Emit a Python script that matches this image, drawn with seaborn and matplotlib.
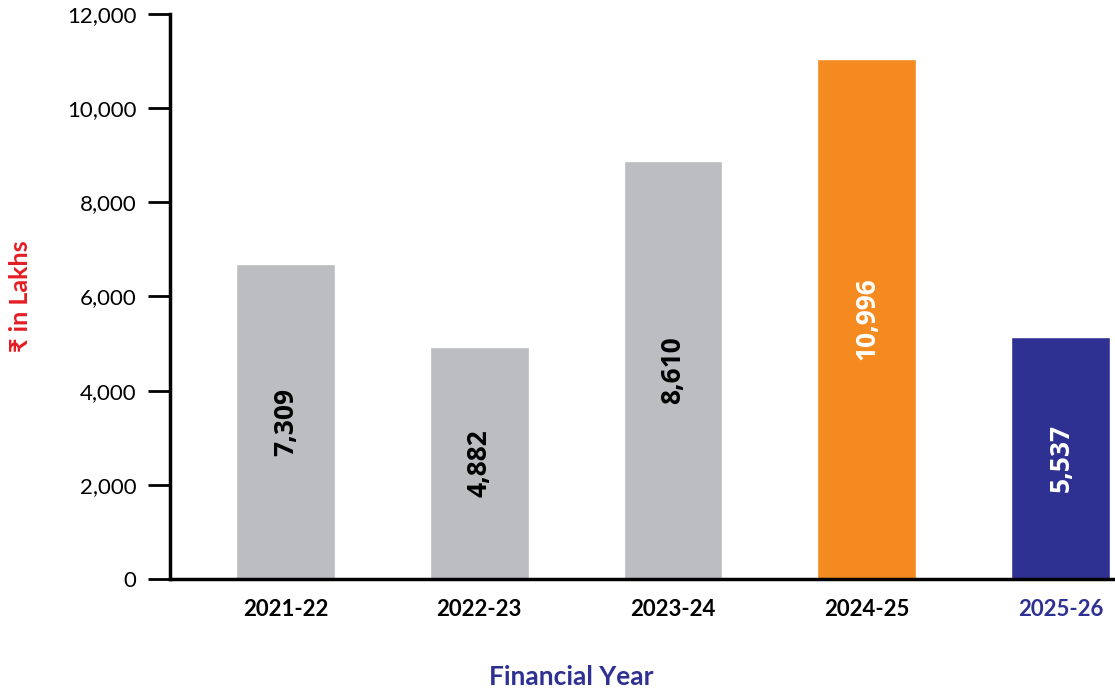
import matplotlib
matplotlib.use("Agg")
import matplotlib.pyplot as plt
import seaborn as sns
import pandas as pd

# data
years = ["2021-22", "2022-23", "2023-24", "2024-25", "2025-26"]
bar_heights = [6680, 4930, 8880, 11050, 5150]
bar_labels = ["7,309", "4,882", "8,610", "10,996", "5,537"]
bar_colors = ["#BCBDC0", "#BCBDC0", "#BCBDC0", "#F58B20", "#2E3192"]
label_colors = ["black", "black", "black", "white", "white"]
yticks = [0, 2000, 4000, 6000, 8000, 10000, 12000]

df = pd.DataFrame({"year": years, "value": bar_heights})

sns.set_style("white")
plt.rcParams["font.family"] = ["Lato", "DejaVu Sans"]

fig = plt.figure(figsize=(11.15, 6.96), dpi=100)
ax = fig.add_axes([0.1525, 0.168, 0.8475, 0.812])

sns.barplot(data=df, x="year", y="value", hue="year", palette=bar_colors,
            width=0.51, legend=False, ax=ax, saturation=1)

for cont, lab, col in zip(ax.containers, bar_labels, label_colors):
    ax.bar_label(cont, labels=[lab], label_type="center", rotation=90,
                 color=col, fontsize=19, fontweight="bold",
                 family=["Open Sans", "DejaVu Sans"])

ax.set_ylim(0, 12000)
ax.set_xlim(-0.595, 4.28)
ax.set_yticks(yticks)
ax.set_yticklabels([f"{v:,}" for v in yticks], fontsize=16, color="black")
ax.tick_params(axis="y", direction="out", length=16, width=2, pad=8,
               left=True, colors="black")
ax.tick_params(axis="x", length=0, pad=14)
for lbl in ax.get_xticklabels():
    lbl.set_fontsize(16)
    lbl.set_fontweight("bold")
    lbl.set_color("black")
ax.get_xticklabels()[-1].set_color("#2E3192")

sns.despine(ax=ax, top=True, right=True)
ax.spines["left"].set_linewidth(2.5)
ax.spines["bottom"].set_linewidth(2.5)
ax.spines["left"].set_color("black")
ax.spines["bottom"].set_color("black")

ax.set_xlabel("Financial Year", fontsize=19, fontweight="bold",
              color="#2E3192")
ax.xaxis.set_label_coords(0.425, -0.152)
ax.set_ylabel("₹ in Lakhs", fontsize=18, fontweight="bold", color="#E31E24",
              family=["Lato", "DejaVu Sans"])
ax.yaxis.set_label_coords(-0.146, 0.5)

fig.savefig("out.png", dpi=100)
